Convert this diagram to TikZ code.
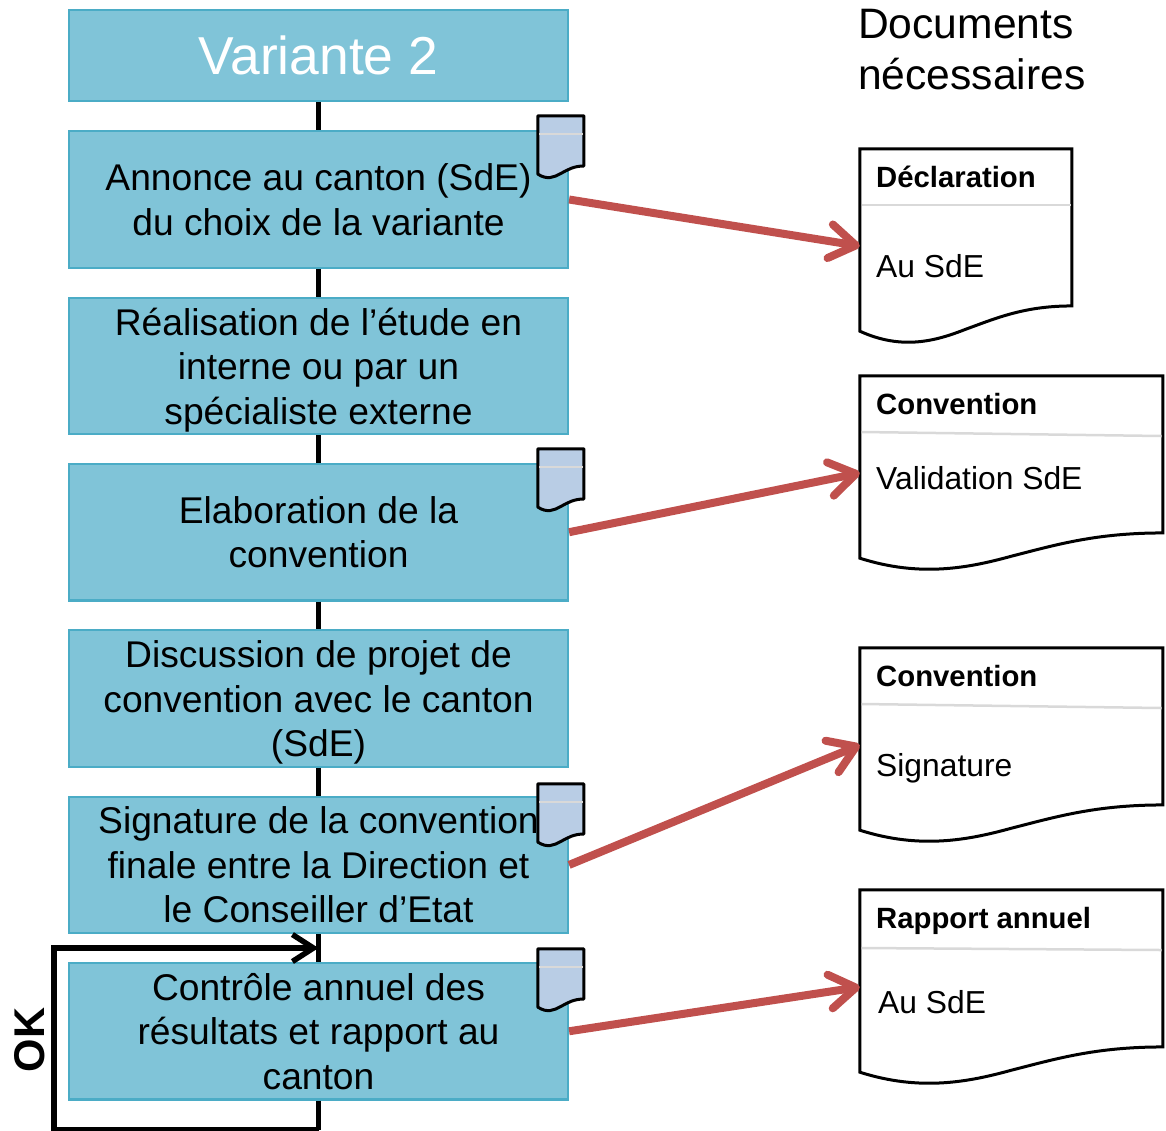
\documentclass[tikz,border=0pt]{standalone}
\usepackage{fontspec}
\setmainfont{Liberation Sans}
\usetikzlibrary{positioning,arrows.meta}

\definecolor{boxfill}{HTML}{80C4D8}
\definecolor{boxline}{HTML}{4BACC6}
\definecolor{iconfill}{HTML}{B9CDE5}
\definecolor{arrowred}{HTML}{C0504D}
\definecolor{sepgray}{HTML}{D9D9D9}

\tikzset{
  stepbox/.style={draw=boxline,fill=boxfill,line width=2.2pt,minimum width=499pt,minimum height=136.5pt,
    inner sep=0pt,align=center,text depth=-2.5pt,font=\fontsize{37.2}{44.5}\selectfont},
  flow/.style={line width=5.5pt,black},
  sendto/.style={line width=8pt,arrowred,-{Straight Barb[length=26pt,width=34pt,line cap=round,round]}},
  docnode/.style={minimum width=#1,minimum height=194pt,inner sep=0pt},
  icon/.style={minimum width=46pt,minimum height=62pt,inner sep=0pt},
  doctitle/.style={anchor=west,inner sep=0pt,font=\fontsize{29.3}{36}\selectfont\bfseries},
  doctext/.style={anchor=west,inner sep=0pt,font=\fontsize{31.8}{40}\selectfont},
}

% name, width, height
\newcommand{\docsheet}[4][line width=3pt]{
  \begin{scope}[shift={(#2.north west)}]
    \draw[#1] (0,0) -- (#3,0) -- (#3,#4*0.81)
      .. controls (#3*0.78,#4*0.81) and (#3*0.65,#4*0.87) .. (#3*0.5,#4*0.93)
      .. controls (#3*0.36,#4*0.99) and (#3*0.2,#4*1.04) .. (0,#4*0.94) -- cycle;
  \end{scope}
}

\begin{document}
\begin{tikzpicture}[x=1pt,y=-1pt,node distance=166.35pt,on grid]
  \useasboundingbox (0,0) rectangle (1166,1130);

  \node[stepbox,minimum height=91pt,text=white,font=\fontsize{53.4}{60}\selectfont] (s_0) at (318.5,55.5) {Variante 2};
  \node[stepbox] (s_1) at (318.5,199.5) {Annonce au canton (SdE)\\du choix de la variante};
  \node[stepbox] (s_2) [below =of s_1] {Réalisation de l’étude en\\interne ou par un\\spécialiste externe};
  \node[stepbox] (s_3) [below =of s_2] {Elaboration de la\\convention};
  \node[stepbox] (s_4) [below =of s_3] {Discussion de projet de\\convention avec le canton\\(SdE)};
  \node[stepbox] (s_5) [below =of s_4] {Signature de la convention\\finale entre la Direction et\\le Conseiller d’Etat};
  \node[stepbox] (s_6) [below =of s_5] {Contrôle annuel des\\résultats et rapport au\\canton};

  \coordinate (c_in) at (318.5,948);
  \coordinate (c_out) at (318.5,1129.5);
  \coordinate (c_left) at (54,1129.5);

  \draw[flow] (s_0) -- (s_1);
  \draw[flow] (s_1) -- (s_2);
  \draw[flow] (s_2) -- (s_3);
  \draw[flow] (s_3) -- (s_4);
  \draw[flow] (s_4) -- (s_5);
  \draw[flow] (s_5) -- (s_6);
  \draw[flow] (s_6) -- (c_out);
  \draw[flow,-{Straight Barb[length=21pt,width=27pt]}] (c_out) -- (c_left) |- (c_in);
  \node[rotate=90,inner sep=0pt,font=\fontsize{43}{43}\selectfont\bfseries] (ok) at (30,1040) {OK};

  \node[anchor=north west,inner sep=0pt,align=left,font=\fontsize{42.6}{50.5}\selectfont] (head) at (858,9) {Documents\\nécessaires};

  \node[docnode=212pt] (d_1) at (966,246) {};
  \node[docnode=303pt] (d_2) at (1011.5,473) {};
  \node[docnode=303pt] (d_3) at (1011.5,745) {};
  \node[docnode=303pt] (d_4) at (1011.5,987) {};
  \docsheet{d_1}{212}{194}
  \docsheet{d_2}{303}{194}
  \docsheet{d_3}{303}{194}
  \docsheet{d_4}{303}{194}
  \draw[sepgray,line width=2.5pt] (861.5,205) -- (1070.5,205);
  \draw[sepgray,line width=2.5pt] (861.5,432) -- (1161.5,436);
  \draw[sepgray,line width=2.5pt] (861.5,704) -- (1161.5,708);
  \draw[sepgray,line width=2.5pt] (861.5,948) -- (1161.5,950);

  \node[doctitle] (t_1) at (876,177) {Déclaration};
  \node[doctext] (u_1) at (876,266) {Au SdE};
  \node[doctitle] (t_2) at (876,404) {Convention};
  \node[doctext] (u_2) at (876,478) {Validation SdE};
  \node[doctitle] (t_3) at (876,676) {Convention};
  \node[doctext] (u_3) at (876,768) {Signature};
  \node[doctitle] (t_4) at (876,921) {Rapport annuel};
  \node[doctext] (u_4) at (878,1002) {Au SdE};

  \node[icon] (i_1) at (561,147) {};
  \node[icon] (i_3) at (561,480) {};
  \node[icon] (i_5) at (561,815) {};
  \node[icon] (i_6) at (561,980) {};
  \foreach \n in {i_1,i_3,i_5,i_6} {
    \docsheet[line width=3pt,line join=round,fill=iconfill]{\n}{46}{62}
    \draw[sepgray,line width=2.5pt] ([xshift=1.5pt,yshift=-18pt]\n.north west) -- ([xshift=-1.5pt,yshift=-18pt]\n.north east);
  }

  \draw[sendto] (s_1.east) -- (d_1.west);
  \draw[sendto] (s_3.east) -- (d_2.west);
  \draw[sendto] (s_5.east) -- (d_3.west);
  \draw[sendto] (s_6.east) -- (d_4.west);
\end{tikzpicture}
\end{document}
